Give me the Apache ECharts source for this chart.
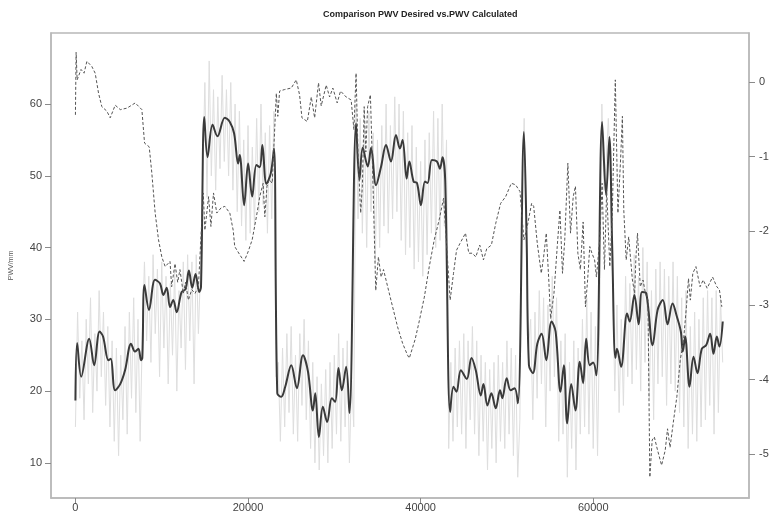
<!DOCTYPE html>
<html><head><meta charset="utf-8">
<script src="https://cdn.jsdelivr.net/npm/echarts@6/dist/echarts.min.js"></script>
<style>html,body{margin:0;padding:0;background:#fff}#c{width:783px;height:518px}</style>
</head><body><div id="c"></div>
<script>
const titleText = 'Comparison PWV Desired vs.PWV Calculated';
const leftTicks = [10, 20, 30, 40, 50, 60];
const rightTicks = [0, -1, -2, -3, -4, -5];
const xTicks = [0, 20000, 40000, 60000];

// raw PWV (light grey), one sample every 250 units of x
const grayStep = 250;
const grayY = [15,31,19,27,16,30,21,33,17,28,20,34,22,31,18,29,15,27,13,26,11,25,16,29,14,31,19,33,17,30,13,28,
38,27,36,24,39,28,37,22,38,26,36,21,35,25,37,20,34,26,38,23,39,27,38,21,39,28,37,
50,63,47,66,50,62,48,61,51,64,52,62,50,63,48,60,45,59,43,55,41,57,42,54,43,58,45,60,46,56,42,57,44,59,22,
24,13,26,15,28,17,29,14,25,13,28,18,30,16,27,12,24,10,22,9,21,11,23,10,24,12,25,14,28,13,26,15,27,10,22,15,
60,44,58,42,57,40,59,45,56,38,55,40,57,43,60,42,57,44,61,45,60,41,59,39,56,40,57,37,54,38,52,36,55,39,56,42,59,40,58,41,60,43,55,
12,24,13,26,15,27,14,28,12,27,16,29,14,27,11,25,13,24,9,23,12,24,10,25,13,24,12,27,14,26,11,25,8,16,48,58,40,26,
30,16,31,19,34,21,33,15,32,20,36,22,33,13,27,14,28,8,24,12,27,9,26,14,30,15,33,14,31,12,29,11,30,
60,48,52,58,50,35,20,
32,17,30,18,36,22,35,21,39,23,36,20,40,24,38,19,34,16,37,21,38,22,37,18,36,21,38,20,36,17,33,15,34,12,29,14,31,13,30,15,33,16,34,18,33,14,34,17,33,24];

// smoothed PWV (black)
const blackX = [0,200,670,1600,2170,2800,3200,3830,4100,4600,5200,5750,6450,6900,7300,7600,7750,
8000,8530,9220,9800,10190,10580,10960,11340,11730,12300,12760,13150,13530,13920,14350,14550,
14930,15310,15890,16460,17310,17890,18390,18850,19040,19550,20010,20480,20970,21360,21660,22130,22630,23010,
23390,23850,24310,25010,25660,26370,26950,27520,27790,28210,28670,29170,29710,30100,30480,30870,31370,31750,
32520,32910,33290,33880,34260,34830,35420,35990,36560,37140,37600,37910,38380,38690,39190,39580,40040,40500,40810,41310,41890,42230,42540,42850,
43420,43810,44160,44660,45350,45890,46390,46970,47280,47740,48200,48700,49200,49470,49970,50430,50890,51280,
51970,52280,52550,53010,53520,54020,54560,55170,55640,56210,56600,56980,57450,57940,58440,58830,59180,59600,59990,60370,
61030,61490,61870,62200,62560,62750,63230,63920,64230,64770,65270,65650,66150,66880,67460,68070,68610,69190,69690,70150,70380,70650,
71160,71620,72080,72580,73080,73550,73930,74320,74620,75010];
const blackY = [18.7,26.7,22.0,27.3,23.6,28.3,27.6,24.3,24.5,20.1,21.0,22.9,26.6,25.5,25.9,24.3,24.6,
34.8,31.3,35.5,35.0,33.4,34.4,31.7,32.7,31.0,33.8,34.2,36.8,34.4,36.3,33.8,34.5,
58.2,52.6,57.1,55.5,58.1,57.5,55.9,51.7,52.9,45.9,51.7,47.1,51.5,51.2,54.3,48.9,50.3,53.8,
19.7,19.2,20.6,23.6,20.4,25.0,22.7,17.3,19.7,13.6,17.8,15.7,19.0,18.5,23.2,20.1,23.4,16.9,
57.3,49.4,53.9,51.3,53.9,48.7,51.3,54.3,52.0,55.7,53.8,55.0,49.6,52.0,49.2,49.0,45.9,49.2,49.0,52.2,52.0,51.0,52.6,49.3,
17.1,20.6,19.9,22.9,21.7,24.6,22.9,19.4,21.0,18.0,19.7,17.6,20.1,19.0,21.8,20.1,20.4,18.3,
56.1,41.5,23.6,22.5,26.6,28.0,24.3,29.7,28.3,19.9,23.6,15.5,21.0,17.3,24.1,21.1,27.3,23.6,24.0,22.2,
57.5,47.3,55.4,40.0,24.6,25.9,23.4,30.8,29.7,33.4,29.3,33.8,33.6,26.4,31.3,32.7,29.3,32.2,30.4,28.3,25.5,27.6,
20.6,24.8,22.5,25.9,26.4,28.0,25.2,27.6,26.2,29.7];

// difference (dashed, right axis)
const dashX = [0,80,200,650,1000,1330,1900,2290,2680,3060,3640,4030,4610,5200,5970,6930,7700,8010,8550,8850,9240,9630,10010,10400,
10960,11150,11540,11850,12110,12500,12760,13090,13480,13860,14250,14810,15000,15430,15700,16000,16380,16880,17310,17890,18280,18460,
19040,19550,20010,20480,20970,21360,21750,21950,22200,22470,22800,23280,23450,23660,24240,25010,25590,25970,26250,26870,27330,27720,
28170,28480,29060,29450,29830,30330,30720,31370,31950,32270,32520,32750,33050,33250,33460,33650,33860,34180,34500,34800,35110,35420,
35700,35990,36560,37330,37910,38480,38690,39360,39790,40430,41000,41580,42150,42660,43420,43810,44160,44550,45200,45580,46000,46390,
46850,47280,47660,48200,48700,49270,49850,50510,51000,51510,51970,52360,52860,53100,53520,53980,54250,54560,54850,55060,55450,55830,
56140,56440,56700,57060,57370,57680,57940,58220,58510,58830,59100,59350,59600,59850,60160,60370,60750,61030,61300,61560,61920,62200,
62560,62860,63150,63380,63540,63820,64110,64540,64800,64950,65130,65450,65770,66050,66340,66560,66830,67080,67460,67920,68340,68610,
68900,69340,69690,70080,70460,70800,71040,71250,71540,71900,72380,72740,73200,73830,74320,74620,74900];
const dashY = [-0.44,0.40,0.03,0.17,0.12,0.28,0.21,0.12,-0.15,-0.33,-0.39,-0.48,-0.31,-0.37,-0.35,-0.28,-0.37,-0.82,-0.87,-1.22,-1.76,-2.12,-2.35,-2.48,
-2.41,-2.75,-2.44,-2.69,-2.52,-2.84,-2.69,-2.93,-2.79,-2.84,-2.75,-1.49,-1.99,-1.54,-1.94,-1.49,-1.76,-1.69,-1.67,-1.76,-1.99,-2.21,
-2.32,-2.41,-2.28,-2.12,-1.81,-1.54,-1.36,-1.81,-1.40,-1.31,-1.36,-0.15,-0.46,-0.12,-0.10,-0.08,0.03,-0.17,-0.48,-0.53,-0.20,-0.48,
-0.01,-0.32,-0.04,-0.20,-0.08,-0.28,-0.12,-0.20,-0.24,-0.64,0.12,-0.98,-1.76,-1.40,-0.33,-0.94,-0.33,-0.17,-1.45,-2.80,-2.35,-2.62,
-2.52,-2.66,-2.93,-3.29,-3.51,-3.67,-3.71,-3.46,-3.24,-2.89,-2.48,-2.12,-1.85,-1.56,-2.93,-2.57,-2.26,-2.17,-2.03,-2.30,-2.30,-2.35,
-2.19,-2.39,-2.24,-2.19,-1.90,-1.63,-1.54,-1.36,-1.38,-1.47,-2.12,-1.94,-1.63,-1.67,-2.17,-2.57,-2.35,-2.03,-2.66,-3.18,-2.84,-2.21,
-1.72,-2.57,-2.12,-1.09,-2.03,-1.54,-1.40,-2.30,-2.52,-1.88,-3.02,-2.66,-2.21,-2.30,-2.39,-2.62,-2.12,-1.36,-2.52,-1.45,-2.48,-1.81,
0.03,-1.76,-1.09,-0.46,-1.72,-2.39,-2.08,-2.66,-2.84,-2.35,-2.03,-2.75,-2.66,-2.84,-2.93,-5.31,-4.81,-4.77,-4.95,-5.15,-4.95,-4.66,
-4.91,-4.52,-4.23,-3.74,-3.47,-3.02,-2.64,-2.93,-2.57,-2.48,-2.75,-2.66,-2.77,-2.62,-2.75,-2.79,-3.02];

const grayData = grayY.map((v, i) => [i * grayStep, v]);
const blackData = blackX.map((x, i) => [x, blackY[i]]);
const dashData = dashX.map((x, i) => [x, dashY[i]]);

const FONT = 'Liberation Sans, Arial, sans-serif';
const AXC = '#b8b8b8';
const TKC = '#8a8a8a';
const chart = echarts.init(document.getElementById('c'), null, {renderer: 'canvas'});
chart.setOption({
  animation: false,
  backgroundColor: '#fff',
  title: {text: titleText, left: 318, top: 5,
    textStyle: {fontSize: 9, fontWeight: 'bold', color: '#222', fontFamily: FONT}},
  grid: {left: 49, right: 34, top: 33, bottom: 20, show: true, borderColor: AXC, borderWidth: 1.5, backgroundColor: 'transparent'},
  xAxis: {type: 'value', min: -2830, max: 78050,
    axisLine: {show: true, onZero: false, lineStyle: {color: AXC, width: 1.5}}, splitLine: {show: false},
    axisTick: {show: true, customValues: xTicks, length: 6, lineStyle: {color: TKC, width: 1}},
    axisLabel: {customValues: xTicks, formatter: v => String(v), margin: 4, fontSize: 11, color: '#444', fontFamily: FONT}},
  yAxis: [
    {type: 'value', min: 5.1, max: 69.9, name: 'PWV/mm', nameLocation: 'middle', nameGap: 36,
      nameTextStyle: {fontSize: 7, color: '#555', fontFamily: FONT},
      axisLine: {show: true, onZero: false, lineStyle: {color: AXC, width: 1.5}}, splitLine: {show: false},
      axisTick: {show: true, customValues: leftTicks, length: 6, lineStyle: {color: TKC, width: 1}},
      axisLabel: {customValues: leftTicks, margin: 9, fontSize: 11, color: '#444', fontFamily: FONT}},
    {type: 'value', min: -5.59, max: 0.66, position: 'right',
      axisLine: {show: true, onZero: false, lineStyle: {color: AXC, width: 1.5}}, splitLine: {show: false},
      axisTick: {show: true, customValues: rightTicks, length: 6, lineStyle: {color: TKC, width: 1}},
      axisLabel: {customValues: rightTicks, margin: 10, fontSize: 11, color: '#444', fontFamily: FONT}}
  ],
  series: [
    {type: 'line', data: grayData, yAxisIndex: 0, showSymbol: false, silent: true,
      lineStyle: {color: '#dedede', width: 1}},
    {type: 'line', data: blackData, yAxisIndex: 0, showSymbol: false, smooth: 0.35, silent: true,
      lineStyle: {color: '#3a3a3a', width: 2}},
    {type: 'line', data: dashData, yAxisIndex: 1, showSymbol: false, silent: true,
      lineStyle: {color: '#555', width: 1, type: [3, 2]}}
  ]
});
</script></body></html>
